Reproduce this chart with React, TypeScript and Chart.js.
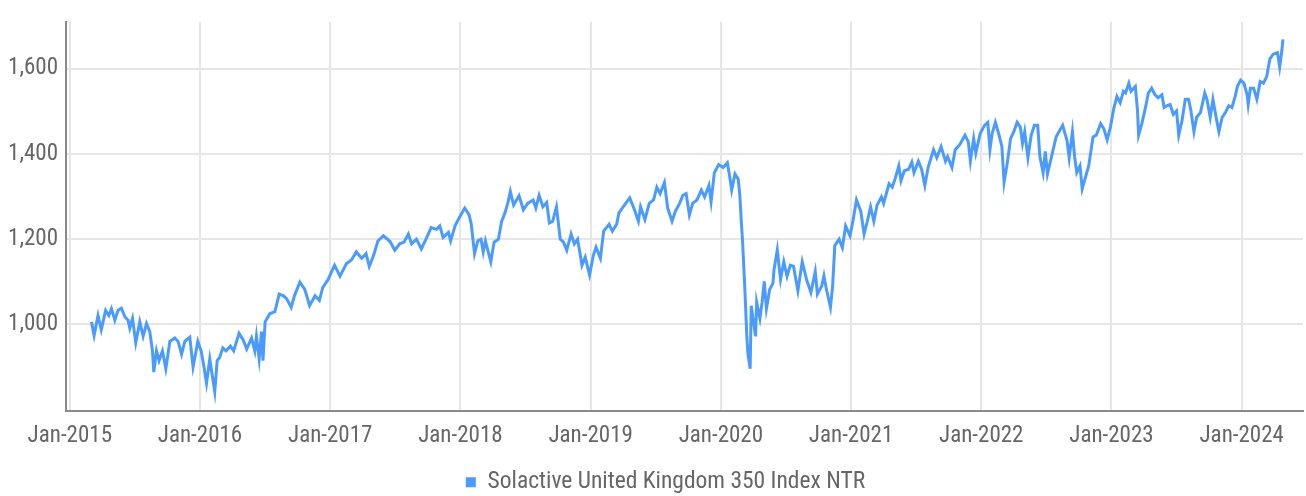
import { useEffect, useRef } from 'react';
import { Chart, registerables } from 'chart.js';

Chart.register(...registerables);

const seriesLabel = 'Solactive United Kingdom 350 Index NTR';

// x position of each observation, in months since Jan-2015
const monthsSinceJan2015 = [
  2.0, 2.24, 2.6, 2.9, 3.3, 3.6, 3.84, 4.15, 4.45, 4.76, 5.07, 5.37, 5.53, 5.78, 6.08, 6.45, 6.76, 7.07, 7.37, 7.62,
  7.74, 7.99, 8.23, 8.54, 8.85, 9.22, 9.68, 9.98, 10.3, 10.6, 11.06, 11.36, 11.8, 12.1, 12.35, 12.6, 12.9, 13.15, 13.36, 13.58,
  13.8, 14.1, 14.4, 14.8, 15.1, 15.6, 15.97, 16.3, 16.75, 17.05, 17.2, 17.45, 17.67, 17.8, 18.0, 18.43, 18.9, 19.3, 19.7, 20.0,
  20.4, 20.7, 21.2, 21.66, 22.1, 22.6, 23.0, 23.3, 23.8, 24.4, 24.9, 25.5, 25.96, 26.4, 26.9, 27.3, 27.6, 28.0, 28.4, 28.9,
  29.5, 29.95, 30.4, 30.8, 31.2, 31.5, 31.95, 32.4, 32.9, 33.3, 33.8, 34.1, 34.4, 34.9, 35.1, 35.5, 35.8, 36.4, 36.8, 37.0,
  37.3, 37.6, 37.9, 38.1, 38.3, 38.8, 39.1, 39.5, 39.8, 40.1, 40.4, 40.6, 40.9, 41.4, 41.8, 42.2, 42.7, 42.95, 43.25, 43.6,
  43.95, 44.2, 44.5, 44.85, 45.2, 45.5, 45.8, 46.2, 46.5, 46.8, 47.2, 47.5, 47.9, 48.25, 48.5, 48.9, 49.2, 49.7, 50.0, 50.4,
  50.6, 51.0, 51.6, 51.98, 52.4, 52.6, 53.0, 53.4, 53.8, 54.1, 54.4, 54.8, 55.1, 55.5, 55.8, 56.2, 56.5, 56.8, 57.1, 57.4,
  57.8, 58.2, 58.5, 58.9, 59.1, 59.4, 59.8, 60.2, 60.6, 60.8, 61.0, 61.3, 61.6, 61.75, 61.9, 62.0, 62.2, 62.4, 62.5, 62.7,
  62.8, 63.2, 63.3, 63.6, 63.8, 64.0, 64.2, 64.5, 64.8, 64.9, 65.2, 65.5, 65.8, 66.1, 66.4, 66.7, 67.1, 67.5, 67.9, 68.3,
  68.7, 68.9, 69.3, 69.5, 69.7, 70.1, 70.3, 70.5, 70.9, 71.2, 71.5, 71.9, 72.2, 72.5, 72.9, 73.2, 73.5, 73.8, 74.1, 74.4,
  74.8, 75.0, 75.5, 75.8, 76.1, 76.4, 76.6, 76.9, 77.3, 77.6, 77.8, 78.2, 78.5, 78.8, 79.1, 79.6, 79.9, 80.3, 80.7, 80.9,
  81.3, 81.6, 82.0, 82.5, 82.8, 83.0, 83.3, 83.5, 83.9, 84.3, 84.6, 84.8, 85.0, 85.3, 85.6, 85.9, 86.1, 86.4, 86.7, 87.0,
  87.3, 87.6, 87.8, 88.0, 88.3, 88.6, 88.9, 89.2, 89.4, 89.7, 89.9, 90.1, 90.45, 90.9, 91.5, 91.9, 92.1, 92.4, 92.6, 92.8,
  93.1, 93.3, 93.6, 93.9, 94.3, 94.6, 95.0, 95.3, 95.6, 95.9, 96.2, 96.5, 96.8, 97.1, 97.3, 97.6, 97.8, 98.2, 98.4, 98.5,
  98.8, 99.1, 99.4, 99.7, 100.0, 100.3, 100.65, 100.85, 101.1, 101.4, 101.7, 102.0, 102.2, 102.5, 102.8, 103.1, 103.3, 103.6, 103.85, 104.2,
  104.6, 104.8, 105.1, 105.35, 105.7, 105.9, 106.2, 106.5, 106.8, 107.1, 107.4, 107.6, 107.9, 108.2, 108.5, 108.6, 108.8, 109.1, 109.4, 109.7,
  110.0, 110.3, 110.6, 110.9, 111.3, 111.5, 111.7, 111.8,
];

const indexValues = [
  1006, 974, 1021, 987, 1033, 1021, 1037, 1010, 1033, 1038, 1018, 1010, 991, 1014, 957, 1006, 972, 1002, 983, 938,
  888, 938, 915, 938, 896, 960, 968, 960, 930, 960, 970, 900, 960, 938, 903, 862, 919, 877, 842, 915,
  922, 945, 938, 949, 938, 979, 964, 942, 968, 938, 972, 919, 983, 915, 1006, 1025, 1030, 1071, 1067, 1060,
  1040, 1067, 1099, 1082, 1044, 1067, 1056, 1086, 1105, 1139, 1113, 1143, 1151, 1170, 1155, 1166, 1136, 1162, 1196, 1208,
  1195, 1174, 1189, 1193, 1212, 1189, 1200, 1177, 1204, 1227, 1223, 1231, 1204, 1216, 1196, 1231, 1246, 1273, 1257, 1235,
  1166, 1196, 1200, 1170, 1196, 1147, 1193, 1200, 1242, 1261, 1288, 1312, 1280, 1302, 1269, 1284, 1292, 1273, 1303, 1276,
  1286, 1238, 1242, 1276, 1200, 1193, 1174, 1212, 1189, 1200, 1139, 1158, 1116, 1162, 1181, 1155, 1219, 1235, 1219, 1235,
  1261, 1276, 1297, 1273, 1242, 1276, 1246, 1284, 1292, 1322, 1307, 1333, 1273, 1242, 1265, 1284, 1303, 1307, 1257, 1284,
  1292, 1315, 1299, 1326, 1288, 1356, 1375, 1368, 1379, 1349, 1315, 1353, 1341, 1303, 1235, 1196, 1090, 968, 930, 896,
  1044, 972, 1052, 1014, 1052, 1101, 1037, 1082, 1097, 1128, 1175, 1105, 1147, 1113, 1139, 1136, 1079, 1147, 1105, 1075,
  1124, 1071, 1090, 1114, 1086, 1040, 1090, 1185, 1200, 1180, 1231, 1208, 1246, 1292, 1265, 1212, 1242, 1276, 1242, 1280,
  1299, 1284, 1330, 1322, 1345, 1372, 1337, 1360, 1364, 1381, 1356, 1383, 1364, 1326, 1368, 1410, 1391, 1417, 1383, 1394,
  1368, 1410, 1421, 1444, 1429, 1383, 1436, 1402, 1448, 1467, 1474, 1410, 1448, 1474, 1448, 1417, 1333, 1379, 1436, 1452,
  1474, 1463, 1425, 1452, 1391, 1444, 1467, 1467, 1394, 1356, 1406, 1353, 1391, 1440, 1467, 1432, 1391, 1452, 1394, 1356,
  1372, 1318, 1345, 1372, 1440, 1444, 1471, 1459, 1433, 1463, 1505, 1535, 1520, 1547, 1543, 1566, 1547, 1558, 1501, 1444,
  1471, 1505, 1543, 1554, 1539, 1532, 1539, 1509, 1513, 1516, 1493, 1501, 1444, 1478, 1528, 1528, 1505, 1452, 1486, 1497,
  1543, 1528, 1486, 1528, 1478, 1452, 1486, 1497, 1513, 1509, 1535, 1558, 1573, 1566, 1539, 1516, 1554, 1554, 1528, 1570,
  1566, 1581, 1623, 1634, 1638, 1604, 1642, 1669,
];

const xTickMonths = [0, 12, 24, 36, 48, 60, 72, 84, 96, 108];
const xTickLabels = ['Jan-2015', 'Jan-2016', 'Jan-2017', 'Jan-2018', 'Jan-2019', 'Jan-2020', 'Jan-2021', 'Jan-2022', 'Jan-2023', 'Jan-2024'];
const yTickValues = [1000, 1200, 1400, 1600];

const LINE_COLOR = '#4b9bff';
const TEXT_COLOR = '#666666';
const GRID_COLOR = '#e6e6e6';
const AXIS_COLOR = '#8a8a8a';
const FONT_FAMILY = "'Liberation Sans Narrow', 'Roboto Condensed', Roboto, sans-serif";

const legendShift = {
  id: 'legendShift',
  afterLayout(chart: any) {
    const lg = chart.legend;
    if (lg) {
      lg.left += 14;
      lg.right += 14;
    }
  },
};

export default function App() {
  const canvasRef = useRef<HTMLCanvasElement>(null);

  useEffect(() => {
    if (!canvasRef.current) return;
    const points = monthsSinceJan2015.map((m, i) => ({ x: m, y: indexValues[i] }));
    const font = { family: FONT_FAMILY, size: 23, weight: 'normal' as const };
    const chart = new Chart(canvasRef.current, {
      type: 'line',
      data: {
        datasets: [
          {
            label: seriesLabel,
            data: points,
            borderColor: LINE_COLOR,
            backgroundColor: LINE_COLOR,
            borderWidth: 3,
            pointRadius: 0,
            pointHoverRadius: 0,
            tension: 0,
            fill: false,
          },
        ],
      },
      plugins: [legendShift],
      options: {
        animation: false,
        responsive: true,
        maintainAspectRatio: false,
        layout: { padding: { top: 12, right: 3, left: 0, bottom: 0 } },
        plugins: {
          tooltip: { enabled: false },
          legend: {
            position: 'bottom',
            labels: {
              font: { ...font, size: 23.5 },
              color: TEXT_COLOR,
              boxWidth: 10,
              boxHeight: 10,
              padding: 10,
              generateLabels: (c) =>
                Chart.defaults.plugins.legend.labels.generateLabels(c).map((l) => ({ ...l, lineWidth: 0 })),
            },
          },
        },
        scales: {
          x: {
            type: 'linear',
            min: -0.35,
            max: 113.65,
            afterBuildTicks: (s) => {
              s.ticks = xTickMonths.map((v) => ({ value: v }));
            },
            afterFit: (s) => {
              s.height = 50;
            },
            ticks: {
              autoSkip: false,
              maxRotation: 0,
              padding: 12,
              font,
              color: TEXT_COLOR,
              callback: (_v, i) => xTickLabels[i],
            },
            grid: { color: GRID_COLOR, lineWidth: 2, drawTicks: false },
            border: { color: AXIS_COLOR, width: 2 },
          },
          y: {
            type: 'linear',
            min: 798,
            max: 1710,
            afterBuildTicks: (s) => {
              s.ticks = yTickValues.map((v) => ({ value: v }));
            },
            afterFit: (s) => {
              s.width = 66;
            },
            ticks: {
              padding: 8,
              font,
              color: TEXT_COLOR,
              callback: (v) => Number(v).toLocaleString('en-US'),
            },
            grid: { color: GRID_COLOR, lineWidth: 2, drawTicks: false },
            border: { color: AXIS_COLOR, width: 2 },
          },
        },
      },
    });
    return () => chart.destroy();
  }, []);

  return (
    <div style={{ position: 'fixed', left: 0, top: 0, width: 1306, height: 496, overflow: 'hidden', background: '#fff' }}>
      <div style={{ position: 'relative', width: 1306, height: 504 }}>
        <canvas ref={canvasRef} />
      </div>
    </div>
  );
}
